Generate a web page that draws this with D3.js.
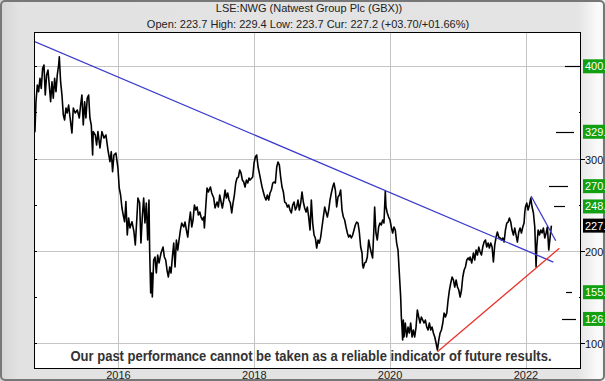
<!DOCTYPE html>
<html><head><meta charset="utf-8">
<script src="https://cdn.jsdelivr.net/npm/d3@7"></script>
<style>body{margin:0;background:#fff}svg{display:block}</style>
</head><body><svg id="c" width="605" height="381"></svg>
<script>
// ---- data (decimal years, GBX) ----
const priceDates = [
2014.756,2014.770,2014.785,2014.805,2014.824,2014.844,2014.863,2014.883,2014.903,2014.922,2014.942,2014.962,2014.981,2015.001,2015.021,2015.040,2015.060,2015.080,2015.099,2015.119,2015.129,2015.148,2015.168,2015.188,2015.207,2015.227,2015.246,2015.266,2015.286,2015.315,2015.335,2015.364,2015.394,2015.423,2015.443,2015.462,2015.482,2015.502,2015.521,2015.541,2015.561,2015.580,2015.600,2015.620,2015.629,2015.659,2015.679,2015.698,2015.728,2015.757,2015.787,2015.816,2015.846,2015.875,2015.895,2015.914,2015.934,2015.963,2015.993,2016.012,2016.032,2016.052,2016.071,2016.091,2016.110,2016.130,2016.150,2016.169,2016.199,2016.228,2016.248,2016.268,2016.287,
2016.312,2016.331,2016.351,2016.371,2016.390,2016.410,2016.430,2016.449,2016.459,2016.474,2016.488,2016.498,2016.518,2016.538,2016.557,2016.577,2016.597,2016.626,2016.656,2016.675,2016.695,2016.714,2016.734,2016.754,2016.773,2016.793,2016.813,2016.832,2016.852,2016.872,2016.891,2016.911,2016.930,2016.960,2016.979,2016.999,2017.019,2017.038,2017.058,2017.078,2017.097,2017.117,2017.137,2017.156,2017.176,2017.196,2017.215,2017.235,2017.254,2017.264,2017.284,2017.303,2017.323,2017.353,2017.372,2017.402,2017.421,2017.451,2017.470,2017.490,2017.510,2017.529,2017.549,2017.569,2017.588,2017.608,2017.627,2017.647,2017.667,2017.686,2017.706,2017.726,2017.745,2017.765,2017.785,2017.804,2017.824,2017.844,2017.863,2017.883,2017.903,2017.922,
2017.937,2017.976,2017.996,2018.015,2018.035,2018.055,2018.074,2018.094,2018.114,2018.133,2018.153,2018.172,2018.192,2018.212,2018.231,2018.251,2018.271,2018.290,2018.310,2018.330,2018.349,2018.369,2018.388,2018.408,2018.428,2018.447,2018.467,2018.487,2018.506,2018.526,2018.546,2018.565,2018.585,2018.605,2018.624,2018.644,2018.663,2018.683,2018.703,2018.722,2018.742,2018.762,2018.781,2018.801,2018.821,2018.840,2018.860,2018.880,2018.899,2018.919,2018.938,2018.958,2018.978,2018.997,2019.017,2019.037,2019.056,2019.076,2019.096,2019.115,2019.135,2019.155,2019.174,2019.194,2019.213,2019.233,2019.253,2019.272,2019.292,2019.312,2019.331,2019.351,2019.371,2019.390,2019.410,2019.430,2019.449,2019.469,2019.488,2019.508,2019.528,2019.547,2019.567,2019.587,2019.596,2019.606,2019.626,2019.645,2019.665,2019.685,2019.704,2019.724,2019.743,2019.763,2019.773,2019.792,2019.812,2019.832,2019.851,2019.871,2019.891,2019.910,2019.930,
2019.940,2019.959,2019.979,2019.999,2020.018,2020.038,2020.058,2020.077,2020.097,2020.117,2020.136,2020.156,2020.166,2020.175,2020.185,2020.195,2020.205,2020.224,2020.244,2020.264,2020.283,2020.303,2020.323,2020.342,2020.362,2020.382,2020.401,2020.421,2020.441,2020.460,2020.480,2020.499,2020.519,2020.539,2020.558,2020.578,2020.598,2020.617,2020.637,2020.657,2020.676,2020.696,2020.716,2020.735,2020.755,2020.775,2020.794,2020.814,2020.834,2020.853,2020.873,2020.892,2020.912,2020.932,2020.951,2020.971,2020.991,2021.010,2021.030,2021.050,2021.069,2021.089,2021.108,2021.128,2021.148,2021.167,
2021.177,2021.201,2021.226,2021.245,2021.265,2021.285,2021.304,2021.324,2021.344,2021.363,2021.383,2021.403,2021.422,2021.442,2021.461,2021.481,2021.501,2021.520,2021.540,2021.560,2021.579,2021.599,2021.619,2021.638,2021.658,2021.678,2021.697,2021.717,2021.737,2021.756,2021.776,2021.795,2021.815,2021.835,2021.854,2021.874,2021.894,2021.913,2021.933,2021.953,2021.972,2021.982,2021.992,2022.012,2022.031,2022.051,2022.071,2022.090,2022.110,2022.130,2022.149,2022.159,2022.179,2022.199,2022.218,2022.238,2022.257,2022.277,2022.297,2022.316,2022.336,2022.356,2022.375];
const priceValues = [
350.8,329.1,361.6,379.7,372.4,387.0,376.1,397.8,401.4,368.9,390.6,396.0,379.7,361.6,383.3,365.3,387.0,372.4,390.6,401.4,410.4,383.3,368.9,347.2,341.8,354.8,349.4,358.0,345.3,327.6,354.8,349.4,352.6,343.9,358.0,368.9,336.3,361.6,343.9,365.6,368.9,343.9,336.3,303.8,329.1,325.5,314.6,329.1,311.4,329.1,322.2,325.5,309.2,296.5,307.4,285.7,303.8,305.9,289.7,268.0,260.4,246.3,238.7,231.4,253.2,217.0,235.5,224.6,231.4,220.6,206.2,231.4,257.1,
251.7,208.3,236.5,257.1,230.0,251.7,211.6,255.0,200.7,154.1,175.8,149.8,189.9,193.2,175.8,195.3,186.7,197.5,204.0,193.2,189.9,179.1,171.5,182.3,175.8,193.2,208.3,182.3,211.6,200.7,211.6,222.4,230.0,225.7,231.1,222.4,214.8,230.0,242.0,225.7,233.3,249.6,244.1,247.4,238.7,242.0,236.5,233.3,236.5,224.6,247.4,268.0,263.7,269.1,262.6,257.1,246.3,252.8,247.4,260.4,252.8,246.3,255.0,265.8,257.1,262.6,255.0,251.7,240.9,251.7,260.4,273.4,278.8,279.9,287.5,284.3,276.6,274.5,269.1,276.6,273.4,278.8,
276.6,279.9,295.1,301.6,303.8,290.8,284.2,276.6,269.1,263.7,258.2,255.0,260.4,255.0,262.6,265.8,273.4,274.5,273.4,290.8,296.2,292.9,279.9,269.1,263.7,252.8,251.7,247.4,249.6,244.1,240.9,249.6,252.8,244.1,247.4,255.0,244.1,251.7,263.7,252.8,246.3,242.0,247.4,236.5,222.4,255.0,230.0,217.0,213.8,202.9,211.6,208.3,214.8,225.7,236.5,247.4,242.0,236.5,244.1,255.0,262.6,269.1,273.4,265.8,247.4,258.2,260.4,265.8,244.1,236.5,233.3,225.7,219.2,214.8,217.0,213.8,217.0,222.4,227.9,231.1,230.0,220.3,204.0,197.5,184.5,181.2,186.7,187.7,193.2,211.6,204.0,197.5,192.1,225.7,247.4,219.2,211.6,225.7,230.0,227.9,233.3,230.0,264.7,
247.4,240.9,236.5,233.3,225.7,219.2,225.7,222.4,208.3,200.7,175.8,149.8,128.1,117.2,103.1,124.8,106.4,121.6,106.4,117.2,110.7,121.6,106.4,114.0,106.4,117.2,135.7,128.1,121.6,128.1,124.8,121.6,124.8,117.2,114.0,121.6,114.0,117.2,110.7,106.4,99.9,92.3,103.1,110.7,114.0,121.6,132.4,128.1,132.4,146.5,157.4,165.0,171.5,168.2,160.6,168.2,160.6,157.4,149.8,157.4,171.5,179.1,182.3,189.9,192.1,189.9,
193.2,186.7,197.5,189.9,200.7,195.3,204.0,198.6,195.3,204.0,209.4,211.6,204.0,208.3,202.9,208.3,204.0,187.7,206.2,214.8,220.3,214.8,213.8,211.6,213.8,209.4,222.4,230.0,231.1,235.5,231.1,222.4,217.0,224.6,217.0,209.4,220.3,224.6,219.2,225.7,230.0,240.9,247.4,251.7,244.1,249.6,257.1,247.4,240.9,225.7,182.3,204.0,222.4,217.0,222.4,219.2,224.6,213.8,219.2,225.7,200.7,214.8,227.2];

const trendLongBlue  = [[2014.756, 427.1], [2022.404, 187.7]];
const trendShortBlue = [[2022.075, 259.3], [2022.439, 210.8]];
const trendRed       = [[2020.696, 90.4],  [2022.492, 202.6]];

const targetLevels = [400, 329, 270, 248, 155, 126];
const currentLevel = 227.2;
const axisLevels   = [100, 200, 300, 400];
const minorLevels  = [150, 250, 350];
const yearTicks    = [2016, 2018, 2020, 2022];
const titleText    = "LSE:NWG (Natwest Group Plc (GBX))";
const infoText     = "Open: 223.7 High: 229.4 Low: 223.7 Cur: 227.2 (+03.70/+01.66%)";
const disclaimer   = "Our past performance cannot be taken as a reliable indicator of future results.";

// ---- helpers ----
function toDate(t){const y=Math.floor(t);const s=Date.UTC(y,0,1),e=Date.UTC(y+1,0,1);return new Date(s+(t-y)*(e-s));}

const W=605,H=381, L=34,R=581,T=32,B=369;
const svg=d3.select('#c');
const x=d3.scaleUtc().domain([toDate(2014.756),toDate(2022.811)]).range([L,R]);
const y=d3.scaleLinear().domain([71.7,437.2]).range([B,T]);

// background
const defs=svg.append('defs');
const g=defs.append('linearGradient').attr('id','bg').attr('x1','0').attr('x2','1').attr('y1','0').attr('y2','0');
[[0,'#d4d4d4'],[0.03,'#e2e2e2'],[0.955,'#e4e4e4'],[0.99,'#fbfbfb'],[1,'#f0f0f0']].forEach(s=>g.append('stop').attr('offset',s[0]).attr('stop-color',s[1]));
svg.append('rect').attr('x',0).attr('y',0).attr('width',W).attr('height',H).attr('fill','url(#bg)');
svg.append('rect').attr('x',1).attr('y',1).attr('width',W-2).attr('height',H-2).attr('rx',4)
  .attr('fill','none').attr('stroke','#777').attr('stroke-width',2);

// titles
svg.append('text').attr('x',309).attr('y',12).attr('text-anchor','middle')
  .attr('font-family','Liberation Sans, Arial, sans-serif').attr('font-size',11).attr('fill','#222').text(titleText);
svg.append('text').attr('x',308).attr('y',28).attr('text-anchor','middle')
  .attr('font-family','Liberation Sans, Arial, sans-serif').attr('font-size',11).attr('fill','#222').text(infoText);

// plot area
svg.append('rect').attr('x',L).attr('y',T).attr('width',R-L).attr('height',B-T).attr('fill','#fff');
const clip=defs.append('clipPath').attr('id','pc');
clip.append('rect').attr('x',L).attr('y',T).attr('width',R-L).attr('height',B-T);

const grid=svg.append('g').attr('stroke','#c4c4c4').attr('stroke-width',1);
yearTicks.forEach(yr=>{const px=Math.round(x(toDate(yr)))+0.5;
  grid.append('line').attr('x1',px).attr('x2',px).attr('y1',T).attr('y2',B);});
axisLevels.forEach(v=>{const py=Math.round(y(v))+0.5;
  grid.append('line').attr('x1',L).attr('x2',R).attr('y1',py).attr('y2',py);});

// left inner ticks
const lt=svg.append('g').attr('stroke','#000');
axisLevels.concat(minorLevels).forEach(v=>{const py=Math.round(y(v))+0.5;
  lt.append('line').attr('x1',L).attr('x2',L+3).attr('y1',py).attr('y2',py);});

// target tick marks (left of right axis)
const tickSpan={400:[565,581],329:[556,574],270:[549,568],248:[554,565],155:[566,572],126:[562,576]};
targetLevels.forEach(v=>{const py=Math.round(y(v))+0.5;
  svg.append('line').attr('x1',tickSpan[v][0]).attr('x2',tickSpan[v][1]).attr('y1',py).attr('y2',py)
   .attr('stroke','#000').attr('stroke-width',1.2);});

const pg=svg.append('g').attr('clip-path','url(#pc)');
const line=d3.line().x(d=>x(toDate(d[0]))).y(d=>y(d[1]));

// price
const price=priceDates.map((t,i)=>[t,priceValues[i]]);
pg.append('path').datum(price).attr('d',line).attr('fill','none').attr('stroke','#000').attr('stroke-width',1.6).attr('stroke-linejoin','round');

// trend lines
pg.append('path').datum(trendLongBlue).attr('d',line).attr('stroke','#3a3acc').attr('stroke-width',1.3).attr('fill','none');
pg.append('path').datum(trendShortBlue).attr('d',line).attr('stroke','#3a3acc').attr('stroke-width',1.3).attr('fill','none');
pg.append('path').datum(trendRed).attr('d',line).attr('stroke','#e8342a').attr('stroke-width',1.3).attr('fill','none');

// frame
svg.append('rect').attr('x',L+0.5).attr('y',T+0.5).attr('width',R-L-1).attr('height',B-T-1).attr('fill','none').attr('stroke','#000');

// disclaimer
svg.append('text').attr('x',311).attr('y',361).attr('text-anchor','middle')
  .attr('font-family','Liberation Sans Narrow, Arial Narrow, Liberation Sans, sans-serif').attr('font-weight','bold')
  .attr('font-size',14).attr('fill','#333').attr('textLength',481).attr('lengthAdjust','spacingAndGlyphs').text(disclaimer);

// right axis labels
const ra=svg.append('g').attr('font-family','Liberation Sans, Arial, sans-serif').attr('font-size',11);
[100,200,300].forEach(v=>{const py=Math.round(y(v))+0.5;
  ra.append('line').attr('x1',R).attr('x2',R+4).attr('y1',py).attr('y2',py).attr('stroke','#000');
  ra.append('text').attr('x',585).attr('y',py+4).attr('fill','#111').text(v);});
minorLevels.forEach(v=>{const py=Math.round(y(v))+0.5;
  ra.append('line').attr('x1',R-2).attr('x2',R).attr('y1',py).attr('y2',py).attr('stroke','#000');});
function box(v,fill,label){const py=y(v);
  ra.append('rect').attr('x',583).attr('y',py-7).attr('width',24).attr('height',14).attr('fill',fill);
  ra.append('text').attr('x',585).attr('y',py+4).attr('fill','#fff').text(label);}
targetLevels.forEach(v=>box(v,'#12a012',v+'.'));
box(currentLevel,'#000',Math.floor(currentLevel)+'.');

// year labels
const xa=svg.append('g').attr('font-family','Liberation Sans, Arial, sans-serif').attr('font-size',11).attr('fill','#222');
yearTicks.forEach(yr=>xa.append('text').attr('x',x(toDate(yr))).attr('y',379).attr('text-anchor','middle').text(yr));
</script></body></html>
